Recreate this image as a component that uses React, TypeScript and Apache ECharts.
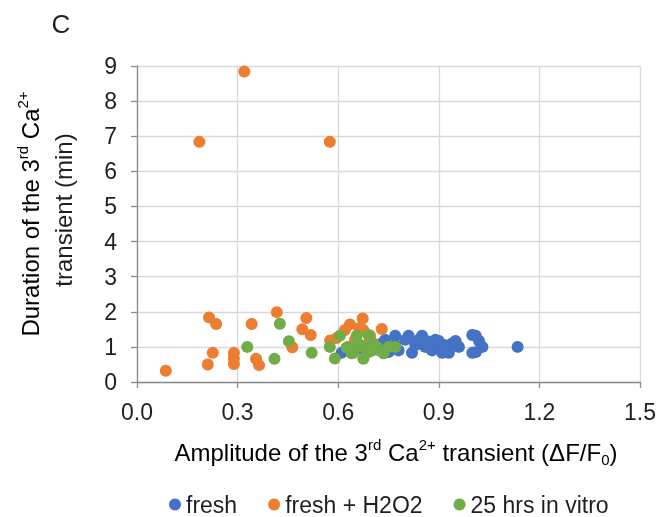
import React, { useEffect, useRef } from "react";
import * as echarts from "echarts";

const seriesNames = ["fresh", "fresh + H2O2", "25 hrs in vitro"];

const freshData: number[][] = [
  [0.61, 0.83], [0.66, 0.95], [0.70, 0.9], [0.72, 1.0], [0.73, 1.1], [0.74, 1.2],
  [0.75, 0.85], [0.77, 1.32], [0.77, 1.05], [0.78, 0.9], [0.80, 1.2], [0.81, 1.32],
  [0.82, 0.83], [0.83, 1.05], [0.84, 1.2], [0.85, 1.32], [0.86, 1.0], [0.87, 1.15],
  [0.88, 0.9], [0.89, 1.2], [0.90, 1.17], [0.90, 0.96], [0.91, 0.83], [0.92, 1.05],
  [0.93, 0.83], [0.94, 1.10], [0.95, 1.17], [0.96, 1.0], [1.0, 1.34], [1.01, 1.32],
  [1.02, 1.17], [1.03, 1.0], [1.0, 0.83], [1.01, 0.85], [1.135, 1.0],
];

const h2o2Data: number[][] = [
  [0.086, 0.32], [0.186, 6.84], [0.32, 8.84], [0.575, 6.84],
  [0.215, 1.84], [0.236, 1.65], [0.226, 0.83], [0.211, 0.5],
  [0.289, 0.83], [0.289, 0.67], [0.289, 0.51],
  [0.342, 1.65], [0.355, 0.66], [0.364, 0.48],
  [0.417, 1.99], [0.463, 0.99],
  [0.505, 1.82], [0.493, 1.5], [0.518, 1.34],
  [0.576, 1.18], [0.595, 1.25], [0.62, 1.48], [0.635, 1.64], [0.663, 1.53],
  [0.673, 1.81], [0.675, 1.48], [0.695, 1.32], [0.73, 1.51], [0.65, 1.2], [0.69, 1.1],
];

const vitroData: number[][] = [
  [0.329, 1.0], [0.41, 0.66], [0.426, 1.66], [0.453, 1.16], [0.521, 0.83],
  [0.575, 1.0], [0.59, 0.67], [0.605, 1.32], [0.625, 0.98], [0.63, 1.0],
  [0.645, 0.83], [0.655, 1.32], [0.675, 1.0], [0.675, 0.66], [0.69, 1.34],
  [0.705, 1.1], [0.715, 1.0], [0.72, 0.91], [0.735, 0.82], [0.75, 1.0],
  [0.77, 1.0], [0.66, 1.1], [0.69, 0.85], [0.64, 0.82],
];

const colors = ["#4472C4", "#ED7D31", "#70AD47"];
const FONT = "'Liberation Sans', Arial, sans-serif";
const TXT = "#1f1f1f";

export default function App() {
  const ref = useRef<HTMLDivElement>(null);
  useEffect(() => {
    if (!ref.current) return;
    const chart = echarts.init(ref.current, null, { renderer: "svg" });
    const sup = { fontSize: 15, fontFamily: FONT, color: TXT, verticalAlign: "top", lineHeight: 30 };
    const sub = { fontSize: 15, fontFamily: FONT, color: TXT, verticalAlign: "bottom", lineHeight: 30 };
    const base = { fontSize: 24, fontFamily: FONT, color: TXT, lineHeight: 30 };
    chart.setOption({
      animation: false,
      textStyle: { fontFamily: FONT },
      grid: { left: 137, right: 20, top: 66, bottom: 135, containLabel: false },
      xAxis: {
        type: "value",
        min: 0,
        max: 1.5,
        interval: 0.3,
        axisLine: { show: true, lineStyle: { color: "#8c8c8c", width: 1.3 } },
        axisTick: { show: true, length: 6, lineStyle: { color: "#8c8c8c", width: 1.3 } },
        splitLine: { show: true, lineStyle: { color: "#d9d9d9", width: 1.3 } },
        axisLabel: {
          fontSize: 23,
          color: TXT,
          margin: 18,
          fontFamily: FONT,
          formatter: (v: number) => v.toFixed(1),
        },
      },
      yAxis: {
        type: "value",
        min: 0,
        max: 9,
        interval: 1,
        axisLine: { show: true, lineStyle: { color: "#8c8c8c", width: 1.3 } },
        axisTick: { show: true, length: 6, lineStyle: { color: "#8c8c8c", width: 1.3 } },
        splitLine: { show: true, lineStyle: { color: "#d9d9d9", width: 1.3 } },
        axisLabel: { fontSize: 23, color: TXT, margin: 20, fontFamily: FONT },
      },
      legend: {
        data: seriesNames,
        left: 169,
        top: 493,
        icon: "circle",
        itemWidth: 12,
        itemHeight: 12,
        itemGap: 31,
        padding: 0,
        textStyle: { fontSize: 23, color: TXT, fontFamily: FONT },
      },
      series: [
        { name: seriesNames[0], type: "scatter", data: freshData, symbolSize: 12, itemStyle: { color: colors[0], opacity: 1 } },
        { name: seriesNames[1], type: "scatter", data: h2o2Data, symbolSize: 12, itemStyle: { color: colors[1], opacity: 1 } },
        { name: seriesNames[2], type: "scatter", data: vitroData, symbolSize: 12, itemStyle: { color: colors[2], opacity: 1 } },
      ],
      graphic: [
        {
          type: "text",
          x: 61,
          y: 24,
          style: { text: "C", fontSize: 26, fontFamily: FONT, fill: TXT, align: "center", verticalAlign: "middle" },
        },
        {
          type: "text",
          x: 396,
          y: 452,
          style: {
            text: "{b|Amplitude of the 3}{sup|rd}{b| Ca}{sup|2+}{b| transient (ΔF/F}{sub|0}{b|)}",
            align: "center",
            verticalAlign: "middle",
            rich: { b: base, sup, sub },
          },
        },
        {
          type: "text",
          x: 30,
          y: 214,
          rotation: Math.PI / 2,
          style: {
            text: "{b|Duration of the 3}{sup|rd}{b| Ca}{sup|2+}",
            align: "center",
            verticalAlign: "middle",
            rich: { b: base, sup },
          },
        },
        {
          type: "text",
          x: 63,
          y: 210,
          rotation: Math.PI / 2,
          style: {
            text: "transient (min)",
            fontSize: 24,
            fontFamily: FONT,
            fill: TXT,
            align: "center",
            verticalAlign: "middle",
          },
        },
      ],
    });
    return () => chart.dispose();
  }, []);
  return (
    <div
      ref={ref}
      style={{ position: "fixed", left: 0, top: 0, width: 660, height: 517 }}
    />
  );
}
